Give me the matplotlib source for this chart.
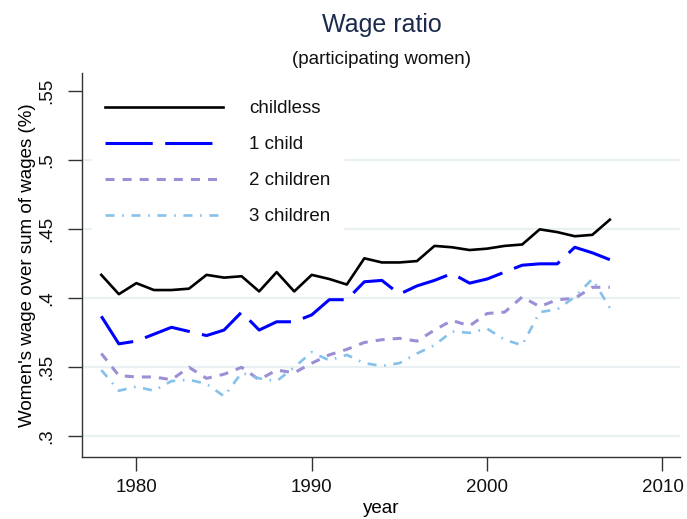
import matplotlib
matplotlib.use('Agg')
import matplotlib.pyplot as plt

plt.rcParams['font.family'] = ['Liberation Sans', 'DejaVu Sans']
plt.rcParams['lines.scale_dashes'] = False

# yearly wage ratios by number of children
years = list(range(1978, 2008))
childless = [0.417, 0.403, 0.411, 0.406, 0.406, 0.407, 0.417, 0.415, 0.416, 0.405,
             0.419, 0.405, 0.417, 0.414, 0.410, 0.429, 0.426, 0.426, 0.427, 0.438,
             0.437, 0.435, 0.436, 0.438, 0.439, 0.450, 0.448, 0.445, 0.446, 0.457]
one_child = [0.387, 0.367, 0.369, 0.374, 0.379, 0.376, 0.373, 0.377, 0.390, 0.377,
             0.383, 0.383, 0.388, 0.399, 0.399, 0.412, 0.413, 0.403, 0.409, 0.413,
             0.418, 0.411, 0.414, 0.419, 0.424, 0.425, 0.425, 0.437, 0.433, 0.428]
two_children = [0.360, 0.344, 0.343, 0.343, 0.341, 0.350, 0.342, 0.345, 0.350, 0.341,
                0.348, 0.346, 0.353, 0.359, 0.363, 0.368, 0.370, 0.371, 0.369, 0.377,
                0.384, 0.380, 0.389, 0.390, 0.401, 0.394, 0.399, 0.400, 0.408, 0.408]
three_children = [0.348, 0.333, 0.336, 0.333, 0.340, 0.341, 0.338, 0.329, 0.346, 0.342,
                  0.340, 0.350, 0.361, 0.355, 0.359, 0.353, 0.351, 0.353, 0.360, 0.366,
                  0.376, 0.375, 0.378, 0.370, 0.366, 0.390, 0.392, 0.401, 0.414, 0.393]

yticks = [0.3, 0.35, 0.4, 0.45, 0.5, 0.55]
ytick_labels = ['.3', '.35', '.4', '.45', '.5', '.55']
xticks = [1980, 1990, 2000, 2010]

fig = plt.figure(figsize=(6.87, 5.19), dpi=100)
ax = fig.add_axes([0.1194, 0.1195, 0.8704, 0.7398])

# horizontal grid (none at the top tick)
for v in yticks[:-1]:
    ax.axhline(v, color='#eaf1f2', lw=1.6, zorder=0)

ax.plot(years, childless, color='black', lw=1.9, label='childless')
ax.plot(years, one_child, color='#0000ff', lw=2.2, ls=(0, (34, 9)), label='1 child')
ax.plot(years, two_children, color='#9b90d6', lw=2.2, ls=(0, (6.5, 5.8)), label='2 children')
ax.plot(years, three_children, color='#86c1ea', lw=1.9, ls=(0, (6.5, 5.5, 1.2, 5.5)),
        label='3 children')

ax.set_xlim(1976.9, 2011.0)
ax.set_ylim(0.285, 0.5633)
ax.set_xticks(xticks)
ax.set_yticks(yticks)
ax.set_yticklabels(ytick_labels, rotation=90, va='center')

for side in ['top', 'right']:
    ax.spines[side].set_visible(False)
for side in ['left', 'bottom']:
    ax.spines[side].set_color('#333333')
    ax.spines[side].set_linewidth(1.0)
ax.tick_params(axis='both', length=10, width=1.0, color='#333333',
               labelsize=13.5, labelcolor='#111111')
ax.tick_params(axis='x', pad=6)
ax.tick_params(axis='y', pad=9)

ax.set_xlabel('year', fontsize=13.5, labelpad=3)
ax.set_ylabel("Women's wage over sum of wages (%)", fontsize=13.5, labelpad=2)

fig.text(0.556, 0.952, 'Wage ratio', fontsize=18, color='#1c2b4d', ha='center', va='center')
fig.text(0.556, 0.886, '(participating women)', fontsize=13.5, color='#111111',
         ha='center', va='center')

leg = ax.legend(loc='upper left', bbox_to_anchor=(0.017, 0.963), borderaxespad=0,
                frameon=True, fancybox=False, framealpha=1, facecolor='white',
                edgecolor='white', fontsize=13.5, handlelength=6.3,
                handletextpad=1.35, labelspacing=1.0, borderpad=0.7)
for t in leg.get_texts():
    t.set_color('#111111')

fig.savefig('out.png', dpi=100)
